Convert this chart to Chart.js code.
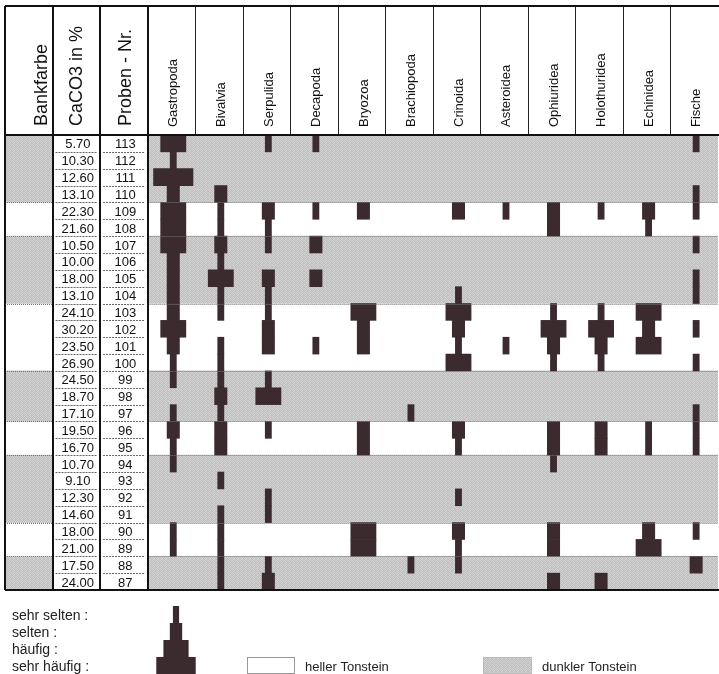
<!DOCTYPE html>
<html>
<head>
<meta charset="utf-8">
<script src="https://cdn.jsdelivr.net/npm/chart.js@4/dist/chart.umd.min.js"></script>
<style>
  body { margin: 0; background: #fff; }
  canvas { display: block; }
</style>
</head>
<body>
<canvas id="myChart" width="719" height="674"></canvas>
<script>
// rows from top to bottom
const proben = ['113','112','111','110','109','108','107','106','105','104','103','102','101','100','99','98','97','96','95','94','93','92','91','90','89','88','87']
const caco3 = ['5.70','10.30','12.60','13.10','22.30','21.60','10.50','10.00','18.00','13.10','24.10','30.20','23.50','26.90','24.50','18.70','17.10','19.50','16.70','10.70','9.10','12.30','14.60','18.00','21.00','17.50','24.00']
// d = dunkler Tonstein, h = heller Tonstein
const bankfarbe = ['d','d','d','d','h','h','d','d','d','d','h','h','h','h','d','d','d','h','h','d','d','d','d','h','h','d','d']

const taxa = ['Gastropoda','Bivalvia','Serpulida','Decapoda','Bryozoa','Brachiopoda','Crinoida','Asteroidea','Ophiuridea','Holothuridea','Echinidea','Fische']

// 0 = fehlt, 1 = sehr selten, 2 = selten, 3 = häufig, 4 = sehr häufig
const gastropoda   = [3,1,4,2,3,3,3,2,2,2,2,3,2,1,1,0,1,2,1,1,0,0,0,1,1,0,0]
const bivalvia     = [0,0,0,2,1,1,2,1,3,1,1,0,1,1,1,2,1,2,2,0,1,0,1,1,1,1,1]
const serpulida    = [1,0,0,0,2,1,1,0,2,1,1,2,2,0,1,3,0,1,0,0,0,1,1,0,0,1,2]
const decapoda     = [1,0,0,0,1,0,2,0,2,0,0,0,1,0,0,0,0,0,0,0,0,0,0,0,0,0,0]
const bryozoa      = [0,0,0,0,2,0,0,0,0,0,3,2,2,0,0,0,0,2,2,0,0,0,0,3,3,0,0]
const brachiopoda  = [0,0,0,0,0,0,0,0,0,0,0,0,0,0,0,0,1,0,0,0,0,0,0,0,0,1,0]
const crinoida     = [0,0,0,0,2,0,0,0,0,1,3,2,1,3,0,0,0,2,1,0,0,1,0,2,1,1,0]
const asteroidea   = [0,0,0,0,1,0,0,0,0,0,0,0,1,0,0,0,0,0,0,0,0,0,0,0,0,0,0]
const ophiuridea   = [0,0,0,0,2,2,0,0,0,0,1,3,2,1,0,0,0,2,2,1,0,0,0,2,2,0,2]
const holothuridea = [0,0,0,0,1,0,0,0,0,0,1,3,2,1,0,0,0,2,2,0,0,0,0,0,0,0,2]
const echinidea    = [0,0,0,0,2,1,0,0,0,0,3,2,3,0,0,0,0,1,1,0,0,0,0,2,3,0,0]
const fische       = [1,0,0,1,1,0,1,0,1,1,0,1,0,1,0,0,1,1,1,0,0,0,0,1,0,2,0]

const levelNames = ['sehr selten :', 'selten :', 'häufig :', 'sehr häufig :']

const series = [gastropoda, bivalvia, serpulida, decapoda, bryozoa, brachiopoda,
  crinoida, asteroidea, ophiuridea, holothuridea, echinidea, fische]

// bar width per level, in column units
const levelWidth = [0, 0.13, 0.26, 0.53, 0.83]
const barColor = '#3b2b2e'
const font = '"Liberation Sans", Arial, sans-serif'

const canvas = document.getElementById('myChart')
const ctx = canvas.getContext('2d')

// stippled grey like the scanned raster
function grayPattern() {
  const c = document.createElement('canvas')
  c.width = 4; c.height = 4
  const g = c.getContext('2d')
  const v = [212,188,204,196, 192,216,184,208, 206,194,214,186, 186,210,196,202]
  const img = g.createImageData(4, 4)
  v.forEach((val, i) => {
    img.data[i*4] = val; img.data[i*4+1] = val; img.data[i*4+2] = val; img.data[i*4+3] = 255
  })
  g.putImageData(img, 0, 0)
  return ctx.createPattern(c, 'repeat')
}
const gray = grayPattern()

const datasets = [
  { label: 'Bankfarbe', data: bankfarbe.map(b => b === 'd' ? [0, 1] : null), backgroundColor: gray, order: 3 },
  { label: 'Taxa', data: bankfarbe.map(b => b === 'd' ? [3, 15] : null), backgroundColor: gray, order: 3 }
]
series.forEach((lv, j) => {
  const c = 3 + j + 0.5 + 0.04
  datasets.push({
    label: taxa[j],
    data: lv.map(l => l ? [c - levelWidth[l] / 2, c + levelWidth[l] / 2] : null),
    backgroundColor: barColor,
    order: 1
  })
})

function line(x1, y1, x2, y2) {
  ctx.beginPath(); ctx.moveTo(x1, y1); ctx.lineTo(x2, y2); ctx.stroke()
}

const tablePlugin = {
  id: 'table',
  afterDraw(chart) {
    const { ctx, chartArea: a, scales: { x, y } } = chart
    const rowH = (a.bottom - a.top) / proben.length
    const colX = i => x.getPixelForValue(i)
    const top = 6
    ctx.save()

    // dotted band boundaries
    ctx.strokeStyle = '#777'; ctx.lineWidth = 1; ctx.setLineDash([1, 1])
    for (let i = 1; i < bankfarbe.length; i++) {
      if (bankfarbe[i] !== bankfarbe[i - 1]) {
        const yy = Math.round(a.top + i * rowH) + 0.5
        line(colX(0), yy, colX(1), yy)
        line(colX(3), yy, colX(15), yy)
      }
    }

    // row underlines in CaCO3 / Proben columns
    ctx.strokeStyle = '#666'; ctx.setLineDash([2, 1])
    for (let i = 1; i < proben.length; i++) {
      const yy = Math.round(a.top + i * rowH) + 0.5
      line(colX(1) + 3, yy, colX(2) - 3, yy)
      line(colX(2) + 3, yy, colX(3) - 3, yy)
    }
    ctx.setLineDash([])

    // values
    ctx.fillStyle = '#111'
    ctx.font = '13px ' + font
    ctx.textAlign = 'center'; ctx.textBaseline = 'alphabetic'
    proben.forEach((p, i) => {
      const yc = y.getPixelForValue(i)
      ctx.fillText(caco3[i], (colX(1) + colX(2)) / 2 + 1.5, yc + 5)
      ctx.fillText(p, (colX(2) + colX(3)) / 2 + 1.5, yc + 5)
    })

    // header texts, rotated
    const heads = [['Bankfarbe', 0, 12], ['CaCO3 in %', 1, 0], ['Proben - Nr.', 2, 1]]
    ctx.textAlign = 'left'; ctx.textBaseline = 'middle'
    heads.forEach(([t, i, dx]) => {
      ctx.save()
      ctx.translate((colX(i) + colX(i + 1)) / 2 + dx + 1, 126)
      ctx.rotate(-Math.PI / 2)
      ctx.font = '18px ' + font
      ctx.fillText(t, 0, 0)
      ctx.restore()
    })
    taxa.forEach((t, j) => {
      ctx.save()
      ctx.translate((colX(3 + j) + colX(4 + j)) / 2 + 2.5, 127)
      ctx.rotate(-Math.PI / 2)
      ctx.font = '13px ' + font
      ctx.fillText(t, 0, 0)
      ctx.restore()
    })

    // grid lines
    ctx.strokeStyle = '#222'; ctx.lineWidth = 1
    for (let i = 4; i < 15; i++) line(Math.round(colX(i)) + 0.5, top, Math.round(colX(i)) + 0.5, a.top)
    ctx.strokeStyle = '#111'; ctx.lineWidth = 2
    line(colX(0), top, 719, top)
    line(colX(0), a.top, 719, a.top)
    line(colX(0), a.bottom, 719, a.bottom)
    for (let i = 0; i <= 3; i++) line(Math.round(colX(i)), top, Math.round(colX(i)), a.bottom)

    // legend: abundance pyramid
    ctx.fillStyle = '#222'
    ctx.font = '14px ' + font
    ctx.textAlign = 'left'; ctx.textBaseline = 'middle'
    levelNames.forEach((t, k) => ctx.fillText(t, 12, 616 + k * 17))
    const unit = colX(1) - colX(0)
    ctx.fillStyle = barColor
    for (let k = 1; k <= 4; k++) {
      const w = levelWidth[k] * unit
      ctx.fillRect(176 - w / 2, 606 + (k - 1) * 17, w, 17.5)
    }

    // legend: rock colour
    ctx.strokeStyle = '#999'; ctx.lineWidth = 1
    ctx.strokeRect(247.5, 657.5, 47, 16)
    ctx.fillStyle = gray
    ctx.fillRect(483, 657, 49, 17)
    ctx.strokeStyle = '#bbb'
    ctx.strokeRect(483.5, 657.5, 48, 16)
    ctx.fillStyle = '#222'
    ctx.font = '13px ' + font
    ctx.fillText('heller Tonstein', 305, 667)
    ctx.fillText('dunkler Tonstein', 542, 667)
    ctx.restore()
  }
}

new Chart(ctx, {
  type: 'bar',
  data: { labels: proben, datasets: datasets },
  options: {
    indexAxis: 'y',
    responsive: false,
    animation: false,
    layout: { padding: { left: 5, right: 1, top: 135, bottom: 84 } },
    datasets: {
      bar: { barPercentage: 1, categoryPercentage: 1, grouped: false, borderWidth: 0 }
    },
    plugins: {
      legend: { display: false },
      tooltip: { enabled: false }
    },
    scales: {
      x: { type: 'linear', min: 0, max: 15, display: false },
      y: { display: false }
    }
  },
  plugins: [tablePlugin]
})
</script>
</body>
</html>
